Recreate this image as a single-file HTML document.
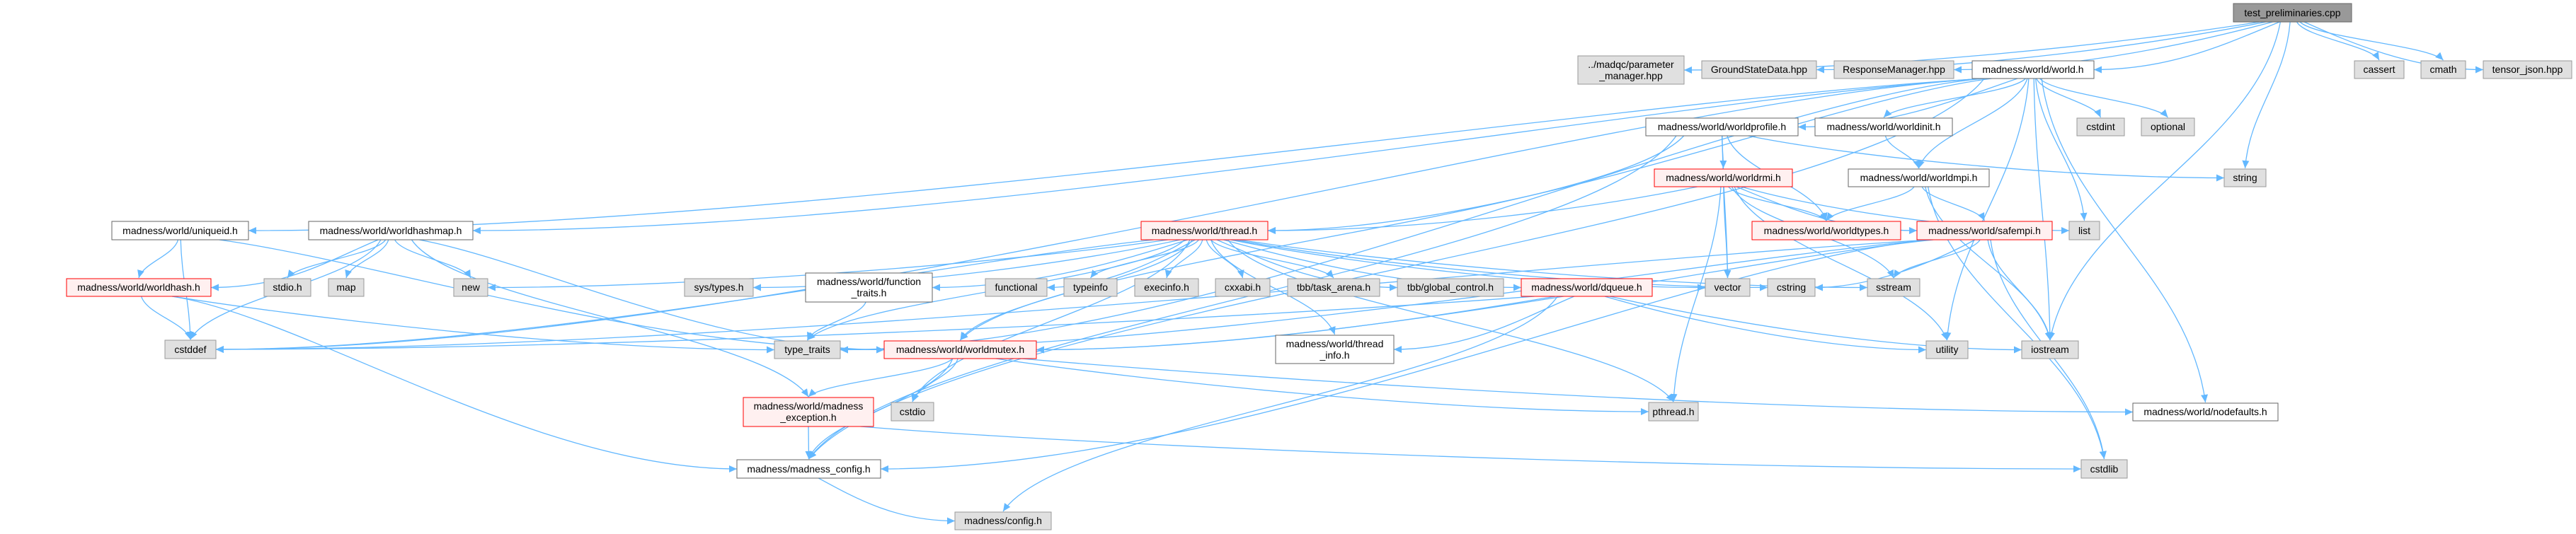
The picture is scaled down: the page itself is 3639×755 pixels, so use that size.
<!DOCTYPE html>
<html><head><meta charset="utf-8">
<style>
html,body{margin:0;padding:0;background:#fff;}
svg{display:block;}
text{font-family:"Liberation Sans",sans-serif;font-size:14px;fill:#000;}
</style></head>
<body>
<svg id="s" width="3639" height="755" viewBox="0 0 3639 755" xmlns="http://www.w3.org/2000/svg">
<defs>
<marker id="ah" markerUnits="userSpaceOnUse" markerWidth="12" markerHeight="12" refX="11" refY="5" orient="auto">
<path d="M0,0 L11,5 L0,10 z" fill="#63b8ff"/>
</marker>
</defs>
<g id="edges" fill="none" stroke="#63b8ff" stroke-width="1.3"></g>
<g id="nodes">
<rect x="3155" y="5" width="167" height="26" fill="#999" stroke="#666"/><text x="3238.5" y="23" text-anchor="middle">test_preliminaries.cpp</text>
<rect x="2229" y="79" width="150" height="40" fill="#e0e0e0" stroke="#999"/><text x="2304" y="96" text-anchor="middle">../madqc/parameter</text><text x="2304" y="112" text-anchor="middle">_manager.hpp</text>
<rect x="2404" y="86" width="162" height="25" fill="#e0e0e0" stroke="#999"/><text x="2485" y="103" text-anchor="middle">GroundStateData.hpp</text>
<rect x="2591" y="86" width="169" height="25" fill="#e0e0e0" stroke="#999"/><text x="2675.5" y="103" text-anchor="middle">ResponseManager.hpp</text>
<rect x="2786" y="86" width="172" height="25" fill="#fff" stroke="#666"/><text x="2872" y="103" text-anchor="middle">madness/world/world.h</text>
<rect x="3326" y="86" width="70" height="25" fill="#e0e0e0" stroke="#999"/><text x="3361" y="103" text-anchor="middle">cassert</text>
<rect x="3420" y="86" width="63" height="25" fill="#e0e0e0" stroke="#999"/><text x="3451.5" y="103" text-anchor="middle">cmath</text>
<rect x="3508" y="86" width="125" height="25" fill="#e0e0e0" stroke="#999"/><text x="3570.5" y="103" text-anchor="middle">tensor_json.hpp</text>
<rect x="2325" y="167" width="215" height="25" fill="#fff" stroke="#666"/><text x="2432.5" y="184" text-anchor="middle">madness/world/worldprofile.h</text>
<rect x="2564" y="167" width="194" height="25" fill="#fff" stroke="#666"/><text x="2661" y="184" text-anchor="middle">madness/world/worldinit.h</text>
<rect x="2934" y="167" width="67" height="25" fill="#e0e0e0" stroke="#999"/><text x="2967.5" y="184" text-anchor="middle">cstdint</text>
<rect x="3025" y="167" width="75" height="25" fill="#e0e0e0" stroke="#999"/><text x="3062.5" y="184" text-anchor="middle">optional</text>
<rect x="2337" y="239" width="195" height="25" fill="#fff0f0" stroke="#f00"/><text x="2434.5" y="256" text-anchor="middle">madness/world/worldrmi.h</text>
<rect x="2611" y="239" width="199" height="25" fill="#fff" stroke="#666"/><text x="2710.5" y="256" text-anchor="middle">madness/world/worldmpi.h</text>
<rect x="3142" y="239" width="59" height="25" fill="#e0e0e0" stroke="#999"/><text x="3171.5" y="256" text-anchor="middle">string</text>
<rect x="158" y="313" width="193" height="26" fill="#fff" stroke="#666"/><text x="254.5" y="331" text-anchor="middle">madness/world/uniqueid.h</text>
<rect x="436" y="313" width="232" height="26" fill="#fff" stroke="#666"/><text x="552" y="331" text-anchor="middle">madness/world/worldhashmap.h</text>
<rect x="1612" y="313" width="179" height="26" fill="#fff0f0" stroke="#f00"/><text x="1701.5" y="331" text-anchor="middle">madness/world/thread.h</text>
<rect x="2475" y="313" width="210" height="26" fill="#fff0f0" stroke="#f00"/><text x="2580" y="331" text-anchor="middle">madness/world/worldtypes.h</text>
<rect x="2708" y="313" width="191" height="26" fill="#fff0f0" stroke="#f00"/><text x="2803.5" y="331" text-anchor="middle">madness/world/safempi.h</text>
<rect x="2923" y="313" width="43" height="26" fill="#e0e0e0" stroke="#999"/><text x="2944.5" y="331" text-anchor="middle">list</text>
<rect x="94" y="394" width="204" height="25" fill="#fff0f0" stroke="#f00"/><text x="196" y="411" text-anchor="middle">madness/world/worldhash.h</text>
<rect x="373" y="394" width="66" height="25" fill="#e0e0e0" stroke="#999"/><text x="406" y="411" text-anchor="middle">stdio.h</text>
<rect x="464" y="394" width="50" height="25" fill="#e0e0e0" stroke="#999"/><text x="489" y="411" text-anchor="middle">map</text>
<rect x="641" y="394" width="48" height="25" fill="#e0e0e0" stroke="#999"/><text x="665" y="411" text-anchor="middle">new</text>
<rect x="967" y="394" width="97" height="25" fill="#e0e0e0" stroke="#999"/><text x="1015.5" y="411" text-anchor="middle">sys/types.h</text>
<rect x="1138" y="386" width="179" height="41" fill="#fff" stroke="#666"/><text x="1227.5" y="403" text-anchor="middle">madness/world/function</text><text x="1227.5" y="419" text-anchor="middle">_traits.h</text>
<rect x="1392" y="394" width="87" height="25" fill="#e0e0e0" stroke="#999"/><text x="1435.5" y="411" text-anchor="middle">functional</text>
<rect x="1503" y="394" width="75" height="25" fill="#e0e0e0" stroke="#999"/><text x="1540.5" y="411" text-anchor="middle">typeinfo</text>
<rect x="1603" y="394" width="90" height="25" fill="#e0e0e0" stroke="#999"/><text x="1648" y="411" text-anchor="middle">execinfo.h</text>
<rect x="1717" y="394" width="77" height="25" fill="#e0e0e0" stroke="#999"/><text x="1755.5" y="411" text-anchor="middle">cxxabi.h</text>
<rect x="1819" y="394" width="130" height="25" fill="#e0e0e0" stroke="#999"/><text x="1884" y="411" text-anchor="middle">tbb/task_arena.h</text>
<rect x="1974" y="394" width="150" height="25" fill="#e0e0e0" stroke="#999"/><text x="2049" y="411" text-anchor="middle">tbb/global_control.h</text>
<rect x="2149" y="394" width="185" height="25" fill="#fff0f0" stroke="#f00"/><text x="2241.5" y="411" text-anchor="middle">madness/world/dqueue.h</text>
<rect x="2409" y="394" width="63" height="25" fill="#e0e0e0" stroke="#999"/><text x="2440.5" y="411" text-anchor="middle">vector</text>
<rect x="2497" y="394" width="67" height="25" fill="#e0e0e0" stroke="#999"/><text x="2530.5" y="411" text-anchor="middle">cstring</text>
<rect x="2638" y="394" width="74" height="25" fill="#e0e0e0" stroke="#999"/><text x="2675" y="411" text-anchor="middle">sstream</text>
<rect x="233" y="481" width="72" height="26" fill="#e0e0e0" stroke="#999"/><text x="269" y="499" text-anchor="middle">cstddef</text>
<rect x="1094" y="482" width="93" height="25" fill="#e0e0e0" stroke="#999"/><text x="1140.5" y="499" text-anchor="middle">type_traits</text>
<rect x="1249" y="482" width="215" height="25" fill="#fff0f0" stroke="#f00"/><text x="1356.5" y="499" text-anchor="middle">madness/world/worldmutex.h</text>
<rect x="1802" y="474" width="167" height="40" fill="#fff" stroke="#666"/><text x="1885.5" y="491" text-anchor="middle">madness/world/thread</text><text x="1885.5" y="507" text-anchor="middle">_info.h</text>
<rect x="2721" y="482" width="59" height="25" fill="#e0e0e0" stroke="#999"/><text x="2750.5" y="499" text-anchor="middle">utility</text>
<rect x="2856" y="482" width="80" height="25" fill="#e0e0e0" stroke="#999"/><text x="2896" y="499" text-anchor="middle">iostream</text>
<rect x="1050" y="562" width="184" height="41" fill="#fff0f0" stroke="#f00"/><text x="1142" y="579" text-anchor="middle">madness/world/madness</text><text x="1142" y="595" text-anchor="middle">_exception.h</text>
<rect x="1259" y="569" width="60" height="26" fill="#e0e0e0" stroke="#999"/><text x="1289" y="587" text-anchor="middle">cstdio</text>
<rect x="2329" y="569" width="70" height="26" fill="#e0e0e0" stroke="#999"/><text x="2364" y="587" text-anchor="middle">pthread.h</text>
<rect x="3013" y="570" width="205" height="25" fill="#fff" stroke="#666"/><text x="3115.5" y="587" text-anchor="middle">madness/world/nodefaults.h</text>
<rect x="1041" y="650" width="203" height="26" fill="#fff" stroke="#666"/><text x="1142.5" y="668" text-anchor="middle">madness/madness_config.h</text>
<rect x="2940" y="650" width="65" height="26" fill="#e0e0e0" stroke="#999"/><text x="2972.5" y="668" text-anchor="middle">cstdlib</text>
<rect x="1349" y="724" width="136" height="25" fill="#e0e0e0" stroke="#999"/><text x="1417" y="741" text-anchor="middle">madness/config.h</text>
</g>
</svg>
<script>
var N={tp:[3155,5,3322,31],pm:[2229,79,2379,119],gs:[2404,86,2566,111],rm:[2591,86,2760,111],wh:[2786,86,2958,111],ca:[3326,86,3396,111],cm:[3420,86,3483,111],tj:[3508,86,3633,111],wp:[2325,167,2540,192],wi:[2564,167,2758,192],ci:[2934,167,3001,192],op:[3025,167,3100,192],wr:[2337,239,2532,264],wm:[2611,239,2810,264],st:[3142,239,3201,264],un:[158,313,351,339],hm:[436,313,668,339],th:[1612,313,1791,339],wt:[2475,313,2685,339],sm:[2708,313,2899,339],li:[2923,313,2966,339],wa:[94,394,298,419],sd:[373,394,439,419],mp:[464,394,514,419],nw:[641,394,689,419],sy:[967,394,1064,419],ft:[1138,386,1317,427],fn:[1392,394,1479,419],ti:[1503,394,1578,419],ex:[1603,394,1693,419],cx:[1717,394,1794,419],ta:[1819,394,1949,419],gc:[1974,394,2124,419],dq:[2149,394,2334,419],ve:[2409,394,2472,419],cs:[2497,394,2564,419],ss:[2638,394,2712,419],cd:[233,481,305,507],tt:[1094,482,1187,507],mx:[1249,482,1464,507],tin:[1802,474,1969,514],ut:[2721,482,2780,507],io:[2856,482,2936,507],me:[1050,562,1234,603],cio:[1259,569,1319,595],pt:[2329,569,2399,595],nd:[3013,570,3218,595],mc:[1041,650,1244,676],cl:[2940,650,3005,676],cf:[1349,724,1485,749]};
var E=[["tp","pm"],["tp","gs"],["tp","rm"],["tp","wh"],["tp","st"],["tp","io"],["tp","ca"],["tp","cm"],["tp","tj"],
["wh","cd"],["wh","un"],["wh","hm"],["wh","th"],["wh","mc"],["wh","wp"],["wh","wi"],["wh","wm"],["wh","ci"],["wh","op"],["wh","li"],["wh","ut"],["wh","io"],["wh","nd"],["wh","tt"],
["wp","st"],["wp","wr"],["wp","wt"],["wp","ve"],["wp","mc"],["wp","mx"],
["wi","wm"],["wm","wt"],["wm","sm"],["wm","io"],["wm","cl"],
["wr","th"],["wr","wt"],["wr","sm"],["wr","li"],["wr","ve"],["wr","ut"],["wr","pt"],["wr","ss"],
["sm","mx"],["sm","cs"],["sm","ss"],["sm","io"],["sm","cl"],["sm","mc"],["sm","tt"],["sm","cd"],
["th","sy"],["th","ft"],["th","fn"],["th","ti"],["th","ex"],["th","cx"],["th","ta"],["th","gc"],["th","dq"],["th","ve"],["th","cs"],["th","ss"],["th","nw"],["th","cd"],["th","tt"],["th","mx"],["th","tin"],["th","pt"],["th","cio"],
["dq","mx"],["dq","tin"],["dq","ut"],["dq","io"],["dq","cd"],["dq","cf"],
["ft","tt"],["mx","me"],["mx","cio"],["mx","mc"],["mx","pt"],["mx","nd"],
["me","mc"],["me","cl"],["mc","cf"],
["un","wa"],["un","cd"],["un","mx"],["hm","wa"],["hm","sd"],["hm","mp"],["hm","nw"],["hm","mx"],["hm","me"],["hm","cd"],
["wa","cd"],["wa","tt"],["wa","mc"]];
var g=document.getElementById("edges"),h="";
E.forEach(function(e){var a=N[e[0]],b=N[e[1]];
var sx=(a[0]+a[2])/2,sy=a[3];
var tx=(b[0]+b[2])/2,ty=b[1];
var dx=tx-sx,dy=ty-sy;
sx+=Math.max(-(a[2]-a[0])*0.4,Math.min((a[2]-a[0])*0.4,dx*0.05));
var d;
if(Math.abs(dx)>4*Math.abs(dy)){var side=dx>0?b[0]:b[2];var my=(b[1]+b[3])/2;var c=Math.min(Math.max((my-sy)*0.6,5),30);
d="M"+sx+","+sy+" C"+(sx+dx*0.2)+","+(sy+c)+" "+(side-dx*0.3)+","+my+" "+side+","+my;}
else{d="M"+sx+","+sy+" C"+(sx+dx*0.1)+","+(sy+dy*0.4)+" "+(tx-dx*0.1)+","+(ty-dy*0.4)+" "+tx+","+(ty-1);}
h+='<path d="'+d+'" marker-end="url(#ah)"/>';});
g.innerHTML=h;
</script>
</body></html>
